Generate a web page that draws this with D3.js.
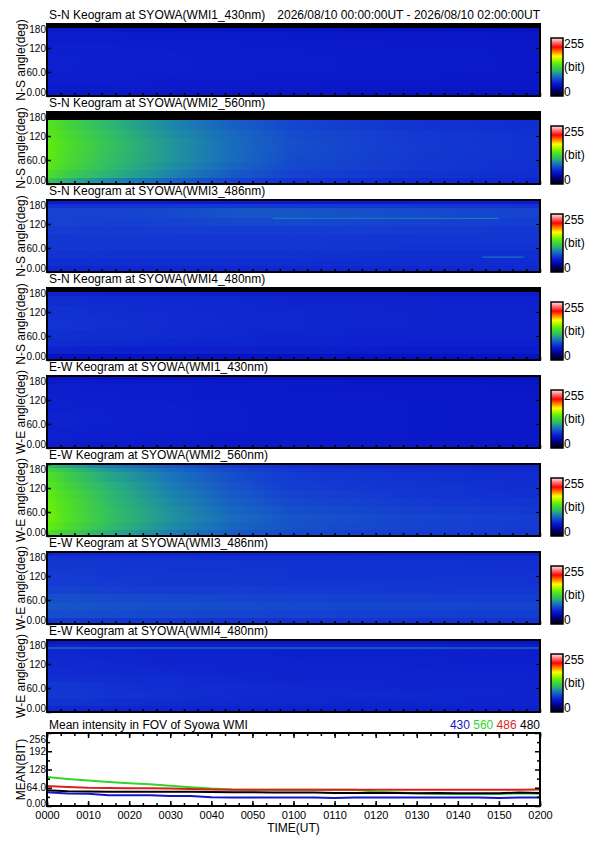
<!DOCTYPE html>
<html>
<head>
<meta charset="utf-8">
<script src="https://cdn.jsdelivr.net/npm/d3@7"></script>
<style>
body { margin: 0; background: #fff; }
text { font-family: "Liberation Sans", Arial, sans-serif; fill: #000; }
</style>
</head>
<body>
<script>
// keogram grid: time columns (minutes from 00:00UT) and angle row edges (deg)
var timeSteps = [0, 5, 15, 30, 45, 60, 90, 120];
var angleEdges = [0, 15, 35, 55, 75, 95, 115, 135, 160, 170, 180];
var angleTicks = [0, 60, 120, 180];
var angleTickLabels = ["0.00", "60.0", "120", "180"];

var panelTitles = [
  "S-N Keogram at SYOWA(WMI1_430nm)",
  "S-N Keogram at SYOWA(WMI2_560nm)",
  "S-N Keogram at SYOWA(WMI3_486nm)",
  "S-N Keogram at SYOWA(WMI4_480nm)",
  "E-W Keogram at SYOWA(WMI1_430nm)",
  "E-W Keogram at SYOWA(WMI2_560nm)",
  "E-W Keogram at SYOWA(WMI3_486nm)",
  "E-W Keogram at SYOWA(WMI4_480nm)"
];
var panelAxisLabels = ["N-S angle(deg)", "N-S angle(deg)", "N-S angle(deg)", "N-S angle(deg)",
  "W-E angle(deg)", "W-E angle(deg)", "W-E angle(deg)", "W-E angle(deg)"];
var headerText = "2026/08/10 00:00:00UT - 2026/08/10 02:00:00UT";

// rows go from 0 deg (bottom) up to 180 deg (top), values in bit (0-255)
var keoSN430 = [
  [52, 52, 52, 51, 51, 50, 49, 48],
  [55, 55, 55, 54, 54, 53, 52, 51],
  [56, 56, 56, 55, 55, 54, 53, 52],
  [57, 57, 56, 56, 55, 55, 54, 52],
  [57, 57, 57, 56, 55, 55, 54, 52],
  [57, 57, 56, 56, 55, 55, 54, 52],
  [56, 56, 56, 55, 55, 54, 53, 52],
  [55, 55, 55, 54, 54, 53, 52, 51],
  [52, 52, 52, 51, 50, 50, 49, 48],
  [0, 0, 0, 0, 0, 0, 0, 0]
];
var keoSN560 = [
  [120, 108, 95, 82, 72, 66, 62, 60],
  [135, 124, 110, 94, 80, 72, 66, 63],
  [140, 130, 115, 98, 84, 74, 68, 64],
  [142, 132, 117, 100, 86, 75, 68, 65],
  [143, 133, 118, 100, 86, 76, 69, 65],
  [142, 133, 118, 100, 86, 76, 69, 65],
  [140, 131, 116, 98, 85, 75, 68, 64],
  [138, 128, 112, 95, 82, 73, 66, 63],
  [0, 0, 0, 0, 0, 0, 0, 0],
  [0, 0, 0, 0, 0, 0, 0, 0]
];
var keoSN486 = [
  [60, 60, 60, 60, 60, 60, 60, 60],
  [64, 64, 63, 63, 63, 63, 63, 62],
  [66, 66, 65, 65, 65, 65, 64, 64],
  [68, 68, 67, 67, 67, 67, 66, 66],
  [68, 68, 68, 68, 68, 68, 67, 67],
  [70, 70, 69, 70, 70, 70, 69, 68],
  [72, 72, 71, 72, 74, 74, 72, 70],
  [72, 72, 72, 74, 78, 78, 75, 72],
  [66, 66, 66, 67, 68, 68, 67, 66],
  [55, 55, 55, 55, 55, 55, 55, 55]
];
var keoSN480 = [
  [48, 48, 48, 48, 48, 48, 48, 48],
  [58, 58, 57, 57, 56, 56, 55, 55],
  [62, 62, 61, 60, 59, 58, 57, 57],
  [65, 64, 63, 62, 60, 59, 58, 58],
  [66, 66, 64, 62, 61, 60, 59, 58],
  [66, 66, 64, 62, 61, 60, 59, 58],
  [65, 65, 63, 62, 60, 60, 59, 58],
  [63, 63, 62, 61, 60, 59, 58, 57],
  [58, 58, 57, 57, 56, 56, 55, 55],
  [0, 0, 0, 0, 0, 0, 0, 0]
];
var keoEW430 = [
  [55, 55, 54, 54, 53, 53, 52, 51],
  [57, 57, 56, 55, 54, 54, 53, 52],
  [57, 57, 56, 56, 55, 54, 53, 52],
  [58, 58, 57, 56, 55, 54, 53, 52],
  [58, 58, 57, 56, 55, 54, 53, 52],
  [57, 57, 56, 56, 55, 54, 53, 52],
  [57, 57, 56, 55, 54, 54, 53, 52],
  [56, 56, 55, 55, 54, 53, 52, 51],
  [54, 54, 53, 53, 52, 52, 51, 50],
  [50, 50, 50, 49, 49, 48, 48, 47]
];
var keoEW560 = [
  [135, 125, 108, 92, 80, 74, 70, 68],
  [145, 133, 115, 97, 84, 77, 72, 69],
  [147, 136, 118, 99, 86, 78, 73, 70],
  [146, 135, 117, 98, 84, 76, 71, 68],
  [145, 134, 115, 96, 82, 74, 69, 66],
  [143, 132, 113, 94, 80, 72, 67, 64],
  [140, 128, 110, 92, 78, 70, 66, 63],
  [136, 124, 106, 89, 76, 69, 65, 62],
  [128, 118, 100, 85, 73, 67, 63, 61],
  [115, 105, 92, 80, 70, 64, 61, 59]
];
var keoEW486 = [
  [68, 68, 67, 67, 66, 66, 66, 65],
  [76, 76, 75, 74, 73, 72, 71, 70],
  [78, 78, 77, 76, 75, 74, 73, 72],
  [76, 76, 75, 74, 73, 72, 71, 70],
  [72, 72, 71, 70, 70, 69, 68, 68],
  [70, 70, 69, 68, 68, 67, 67, 66],
  [69, 69, 68, 67, 67, 66, 66, 65],
  [68, 68, 67, 66, 66, 65, 65, 64],
  [66, 66, 65, 65, 64, 64, 63, 63],
  [60, 60, 60, 60, 59, 59, 59, 58]
];
var keoEW480 = [
  [60, 60, 59, 58, 58, 57, 57, 56],
  [66, 66, 64, 62, 61, 60, 59, 58],
  [68, 68, 66, 64, 62, 61, 60, 59],
  [67, 67, 65, 63, 62, 60, 59, 58],
  [64, 64, 63, 62, 60, 59, 58, 58],
  [62, 62, 61, 60, 59, 58, 58, 57],
  [61, 61, 60, 59, 58, 58, 57, 57],
  [60, 60, 59, 58, 58, 57, 57, 56],
  [58, 58, 57, 57, 56, 56, 56, 55],
  [52, 52, 52, 52, 51, 51, 51, 51]
];
var keograms = [keoSN430, keoSN560, keoSN486, keoSN480, keoEW430, keoEW560, keoEW486, keoEW480];

// thin bright streaks seen in some panels: panel index, angle, start/end minute, value
var streaks = [
  {panel: 2, angle: 134, t0: 55, t1: 110, value: 90},
  {panel: 2, angle: 37, t0: 106, t1: 116, value: 88},
  {panel: 7, angle: 160, t0: 0, t1: 120, value: 98}
];

// mean intensity in FOV, every 5 minutes
var meanTimes = [0, 5, 10, 15, 20, 25, 30, 35, 40, 45, 50, 55, 60, 65, 70, 75, 80, 85, 90, 95, 100, 105, 110, 115, 120];
var mean430 = [48, 44, 43, 38, 38, 38, 35, 35, 31, 30, 30, 30, 30, 30, 28, 30, 30, 30, 30, 30, 30, 30, 28, 30, 30];
var mean560 = [102, 95, 89, 84, 80, 76, 71, 66, 61, 58, 57, 57, 57, 57, 57, 57, 50, 47, 45, 43, 42, 42, 42, 45, 43];
var mean486 = [70, 67, 64, 63, 62, 62, 61, 60, 58, 57, 57, 57, 57, 57, 57, 57, 57, 57, 57, 57, 57, 57, 57, 57, 58];
var mean480 = [55, 52, 51, 50, 50, 50, 50, 50, 49, 48, 48, 47, 47, 47, 46, 46, 46, 46, 45, 46, 45, 45, 45, 47, 46];
var meanTicks = [0, 64, 128, 192, 256];
var meanTickLabels = ["0.00", "64.0", "128", "192", "256"];
var timeTicks = [0, 10, 20, 30, 40, 50, 60, 70, 80, 90, 100, 110, 120];
var timeTickLabels = ["0000", "0010", "0020", "0030", "0040", "0050", "0100", "0110", "0120", "0130", "0140", "0150", "0200"];
var legendNames = ["430", "560", "486", "480"];
var legendColors = ["#1414c8", "#2ed62e", "#dc1e1e", "#000000"];

// rainbow + white colour table (0..255)
var color = d3.scaleLinear()
  .domain([0, 20, 40, 55, 70, 90, 110, 130, 145, 175, 195, 215, 255])
  .range(["#000000", "#00005a", "#0008b4", "#0c1ccd", "#143cd2", "#1978b9", "#28b478", "#46d732", "#64f00a", "#ffff00", "#ff8000", "#ff0000", "#ffe6e6"])
  .clamp(true);

var W = 595, H = 842;
var plotLeft = 47, plotRight = 540;
var panelTop0 = 24, panelStep = 88, panelH = 72;
var tickFont = 10;

var svg = d3.select("body").append("svg").attr("width", W).attr("height", H);
var defs = svg.append("defs");

var x = d3.scaleLinear().domain([0, 120]).range([plotLeft, plotRight]);
var minorTimes = d3.range(0, 121, 10 / 3);

// colorbar gradient (bottom = 0, top = 255)
var cbGrad = defs.append("linearGradient").attr("id", "cbar")
  .attr("x1", 0).attr("y1", 1).attr("x2", 0).attr("y2", 0);
cbGrad.selectAll("stop").data(color.domain()).enter().append("stop")
  .attr("offset", function(d) { return d / 255; })
  .attr("stop-color", function(d) { return color(d); });

keograms.forEach(function(grid, p) {
  var top = panelTop0 + p * panelStep;
  var y = d3.scaleLinear().domain([0, 180]).range([top + panelH, top]);
  var g = svg.append("g");

  grid.forEach(function(row, r) {
    var id = "kg" + p + "_" + r;
    var grad = defs.append("linearGradient").attr("id", id)
      .attr("gradientUnits", "userSpaceOnUse")
      .attr("x1", x(0)).attr("x2", x(120)).attr("y1", 0).attr("y2", 0);
    grad.selectAll("stop").data(row).enter().append("stop")
      .attr("offset", function(d, i) { return (x(timeSteps[i]) - x(0)) / (x(120) - x(0)); })
      .attr("stop-color", function(d) { return color(d); });
    g.append("rect")
      .attr("x", x(0)).attr("width", x(120) - x(0))
      .attr("y", y(angleEdges[r + 1]))
      .attr("height", y(angleEdges[r]) - y(angleEdges[r + 1]))
      .attr("shape-rendering", "crispEdges")
      .attr("fill", "url(#" + id + ")");
  });

  streaks.filter(function(s) { return s.panel === p; }).forEach(function(s) {
    g.append("line")
      .attr("x1", x(s.t0)).attr("x2", x(s.t1))
      .attr("y1", y(s.angle)).attr("y2", y(s.angle))
      .attr("stroke", color(s.value)).attr("stroke-width", 1.2);
  });

  // axes, ticks pointing inward
  var left = g.append("g").attr("transform", "translate(" + x(0) + ",0)")
    .call(d3.axisLeft(y).tickValues(angleTicks).tickSize(-4).tickPadding(1)
      .tickFormat(function(d, i) { return angleTickLabels[i]; }));
  left.select(".domain").remove();
  left.selectAll(".tick text")
    .attr("font-size", tickFont).attr("font-family", "Liberation Sans, Arial, sans-serif")
    .attr("y", function(d) { return d === 180 ? 5 : d === 0 ? -4 : 0; });
  left.selectAll(".tick line").attr("stroke-width", 1.5);

  var right = g.append("g").attr("transform", "translate(" + x(120) + ",0)")
    .call(d3.axisRight(y).tickValues(angleTicks).tickSize(-4).tickFormat(""));
  right.select(".domain").remove();

  var bottom = g.append("g").attr("transform", "translate(0," + (top + panelH) + ")")
    .call(d3.axisBottom(x).tickValues(minorTimes).tickSize(-3).tickFormat(""));
  bottom.select(".domain").remove();
  bottom.selectAll(".tick line").attr("stroke-width", 1.5);

  g.append("rect")
    .attr("x", x(0)).attr("y", top)
    .attr("width", x(120) - x(0)).attr("height", panelH)
    .attr("fill", "none").attr("stroke", "#000").attr("stroke-width", 2);

  g.append("text").attr("x", 49).attr("y", top - 5)
    .attr("font-size", 12).text(panelTitles[p]);

  g.append("text")
    .attr("transform", "translate(25," + (top + panelH / 2) + ") rotate(-90)")
    .attr("text-anchor", "middle").attr("font-size", 12)
    .text(panelAxisLabels[p]);

  // colour bar
  g.append("rect").attr("x", 551).attr("y", top + 14)
    .attr("width", 12).attr("height", panelH - 14)
    .attr("fill", "url(#cbar)").attr("stroke", "#000").attr("stroke-width", 1.5);
  g.append("text").attr("x", 564).attr("y", top + 24).attr("font-size", 12).text("255");
  g.append("text").attr("x", 564).attr("y", top + 47).attr("font-size", 12).text("(bit)");
  g.append("text").attr("x", 564).attr("y", top + 72).attr("font-size", 12).text("0");
});

svg.append("text").attr("x", 540).attr("y", panelTop0 - 5)
  .attr("text-anchor", "end").attr("font-size", 12).text(headerText);

// mean intensity chart
var mTop = 733, mBottom = 806;
var ym = d3.scaleLinear().domain([0, 256]).range([mBottom, mTop]);
var mg = svg.append("g");

svg.append("defs").append("clipPath").attr("id", "mclip")
  .append("rect").attr("x", x(0)).attr("y", mTop).attr("width", x(120) - x(0)).attr("height", mBottom - mTop);

var line = d3.line()
  .x(function(d, i) { return x(meanTimes[i]); })
  .y(function(d) { return ym(d); });

[mean430, mean560, mean486, mean480].forEach(function(series, i) {
  mg.append("path").datum(series)
    .attr("d", line)
    .attr("fill", "none")
    .attr("stroke", legendColors[i])
    .attr("stroke-width", 2)
    .attr("clip-path", "url(#mclip)");
});

var mx = mg.append("g").attr("transform", "translate(0," + mBottom + ")")
  .call(d3.axisBottom(x).tickValues(timeTicks).tickSize(-5).tickPadding(5)
    .tickFormat(function(d, i) { return timeTickLabels[i]; }));
mx.select(".domain").remove();
mx.selectAll(".tick text").attr("font-size", 11).attr("font-family", "Liberation Sans, Arial, sans-serif");
mx.selectAll(".tick line").attr("stroke-width", 1.5);

[mBottom, mTop].forEach(function(yy, k) {
  var minor = mg.append("g").attr("transform", "translate(0," + yy + ")")
    .call((k === 0 ? d3.axisBottom(x) : d3.axisTop(x)).tickValues(minorTimes).tickSize(-3).tickFormat(""));
  minor.select(".domain").remove();
  minor.selectAll(".tick line").attr("stroke-width", 1.5);
});
var mxTop = mg.append("g").attr("transform", "translate(0," + mTop + ")")
  .call(d3.axisTop(x).tickValues(timeTicks).tickSize(-5).tickFormat(""));
mxTop.select(".domain").remove();
mxTop.selectAll(".tick line").attr("stroke-width", 1.5);

var my = mg.append("g").attr("transform", "translate(" + x(0) + ",0)")
  .call(d3.axisLeft(ym).tickValues(meanTicks).tickSize(-5).tickPadding(1)
    .tickFormat(function(d, i) { return meanTickLabels[i]; }));
my.select(".domain").remove();
my.selectAll(".tick text").attr("font-size", tickFont).attr("font-family", "Liberation Sans, Arial, sans-serif")
  .attr("y", function(d) { return d === 256 ? 6 : d === 0 ? -3 : 0; });
my.selectAll(".tick line").attr("stroke-width", 1.5);

[x(0), x(120)].forEach(function(xx, k) {
  var ax = (k === 0 ? d3.axisLeft(ym) : d3.axisRight(ym));
  var yg = mg.append("g").attr("transform", "translate(" + xx + ",0)")
    .call(ax.tickValues([32, 96, 160, 224]).tickSize(-3).tickFormat(""));
  yg.select(".domain").remove();
  yg.selectAll(".tick line").attr("stroke-width", 1.5);
});
var myr = mg.append("g").attr("transform", "translate(" + x(120) + ",0)")
  .call(d3.axisRight(ym).tickValues(meanTicks).tickSize(-5).tickFormat(""));
myr.select(".domain").remove();
myr.selectAll(".tick line").attr("stroke-width", 1.5);

mg.append("rect").attr("x", x(0)).attr("y", mTop)
  .attr("width", x(120) - x(0)).attr("height", mBottom - mTop)
  .attr("fill", "none").attr("stroke", "#000").attr("stroke-width", 2);

mg.append("text").attr("x", 49).attr("y", mTop - 4).attr("font-size", 12)
  .text("Mean intensity in FOV of Syowa WMI");

var legend = mg.append("text").attr("x", 540).attr("y", mTop - 4)
  .attr("text-anchor", "end").attr("font-size", 12);
legendNames.forEach(function(name, i) {
  legend.append("tspan").attr("fill", legendColors[i]).style("fill", legendColors[i])
    .text((i > 0 ? " " : "") + name);
});

mg.append("text")
  .attr("transform", "translate(25," + ((mTop + mBottom) / 2) + ") rotate(-90)")
  .attr("text-anchor", "middle").attr("font-size", 12).text("MEAN(BIT)");

mg.append("text").attr("x", (x(0) + x(120)) / 2).attr("y", 832)
  .attr("text-anchor", "middle").attr("font-size", 12).text("TIME(UT)");
</script>
</body>
</html>
